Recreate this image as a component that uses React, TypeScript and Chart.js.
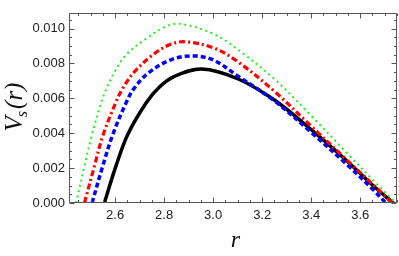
import React, { useEffect, useRef } from "react";
import { Chart, registerables } from "chart.js";

Chart.register(...registerables);

// r values and V_s(r) values for each curve
const blackR = [2.556, 2.604, 2.652, 2.727, 2.781, 2.842, 2.954, 3.1, 3.25, 3.4, 3.55, 3.66, 3.735];
const blackV = [0, 0.00214, 0.00394, 0.00575, 0.00665, 0.00726, 0.00768, 0.00712, 0.0059, 0.0042, 0.00235, 0.0009, 0];

const blueR = [2.506, 2.55, 2.591, 2.645, 2.679, 2.74, 2.835, 2.92, 3.0, 3.1, 3.25, 3.4, 3.55, 3.65, 3.705];
const blueV = [0, 0.00214, 0.00394, 0.00575, 0.0066, 0.0075, 0.00825, 0.00843, 0.0082, 0.00728, 0.00585, 0.00405, 0.00215, 0.0008, 0];

const redR = [2.475, 2.516, 2.552, 2.601, 2.629, 2.679, 2.751, 2.822, 2.886, 3.0, 3.1, 3.25, 3.4, 3.55, 3.66, 3.73];
const redV = [0, 0.00214, 0.00394, 0.0057, 0.00652, 0.00752, 0.00846, 0.00907, 0.00924, 0.0089, 0.0081, 0.0064, 0.0044, 0.0024, 0.00095, 0];

const greenR = [2.441, 2.475, 2.506, 2.543, 2.563, 2.597, 2.645, 2.72, 2.804, 2.865, 3.0, 3.1, 3.25, 3.4, 3.55, 3.66, 3.745];
const greenV = [0, 0.00214, 0.00394, 0.00575, 0.0065, 0.0075, 0.0085, 0.00935, 0.0101, 0.01027, 0.0097, 0.0088, 0.0071, 0.005, 0.0028, 0.0012, 0];

const xTickLabels = ["2.6", "2.8", "3.0", "3.2", "3.4", "3.6"];
const yTickLabels = ["0.000", "0.002", "0.004", "0.006", "0.008", "0.010"];

const X_MIN = 2.416;
const X_MAX = 3.75;
const Y_MIN = 0;
const Y_MAX = 0.0109;

const zip = (xs: number[], ys: number[]) => xs.map((x, i) => ({ x, y: ys[i] }));

const framePlugin = {
  id: "mmaFrame",
  afterDatasetsDraw(chart: any) {
    const { ctx, chartArea, scales } = chart;
    const { left, right, top, bottom } = chartArea;
    const xs = scales.x;
    const ys = scales.y;
    ctx.save();
    ctx.strokeStyle = "#555";
    ctx.lineWidth = 1;
    const L = Math.round(left) - 0.5;
    const R = Math.round(right) - 0.5;
    const T = Math.round(top) + 0.5;
    const B = Math.round(bottom) - 0.5;
    ctx.beginPath();
    ctx.rect(L, T, R - L, B - T);
    ctx.stroke();
    ctx.beginPath();
    const xStep = 0.05;
    for (let k = Math.ceil(X_MIN / xStep - 1e-9); k * xStep <= X_MAX + 1e-9; k++) {
      const v = k * xStep;
      const px = Math.round(xs.getPixelForValue(v)) + 0.5;
      const len = k % 4 === 0 ? 5 : 2.5;
      ctx.moveTo(px, B);
      ctx.lineTo(px, B - len);
      ctx.moveTo(px, T);
      ctx.lineTo(px, T + len);
    }
    const yStep = 0.0005;
    for (let k = 0; k * yStep <= Y_MAX + 1e-12; k++) {
      const v = k * yStep;
      const py = Math.round(ys.getPixelForValue(v)) + 0.5;
      const len = k % 4 === 0 ? 5 : 2.5;
      ctx.moveTo(L, py);
      ctx.lineTo(L + len, py);
      ctx.moveTo(R, py);
      ctx.lineTo(R - len, py);
    }
    ctx.stroke();
    ctx.restore();
  },
  afterDraw(chart: any) {
    const { ctx, chartArea } = chart;
    ctx.save();
    ctx.fillStyle = "#111";
    ctx.textBaseline = "alphabetic";
    ctx.font = "italic 24px 'Liberation Serif'";
    ctx.textAlign = "center";
    const cx = (chartArea.left + chartArea.right) / 2 + 2;
    ctx.fillText("r", cx, 247);
    const big = "italic 25px 'Liberation Serif'";
    const small = "italic 16px 'Liberation Serif'";
    ctx.font = big;
    const wV = ctx.measureText("V").width;
    const wR = ctx.measureText("(r)").width;
    ctx.font = small;
    const wS = ctx.measureText("s").width;
    const total = wV + wS + 1 + wR;
    ctx.translate(22, 107);
    ctx.rotate(-Math.PI / 2);
    ctx.textAlign = "left";
    let x0 = -total / 2;
    ctx.font = big;
    ctx.fillText("V", x0, 0);
    x0 += wV - 1;
    ctx.font = small;
    ctx.fillText("s", x0, 5);
    x0 += wS + 2;
    ctx.font = big;
    ctx.fillText("(r)", x0, 0);
    ctx.restore();
  },
};

export default function App() {
  const canvasRef = useRef<HTMLCanvasElement | null>(null);

  useEffect(() => {
    document.body.style.margin = "0";
    const canvas = canvasRef.current;
    if (!canvas) return;
    const tickFont = { family: "'Liberation Sans', Arial, sans-serif", size: 13 };
    const common = { pointRadius: 0, tension: 0.35, fill: false };
    const chart = new Chart(canvas, {
      type: "line",
      data: {
        datasets: [
          {
            label: "black",
            data: zip(blackR, blackV),
            borderColor: "#000000",
            borderWidth: 3.5,
            order: 4,
            ...common,
          },
          {
            label: "blue",
            data: zip(blueR, blueV),
            borderColor: "#0000ff",
            borderWidth: 3.5,
            borderDash: [5, 3],
            order: 3,
            ...common,
          },
          {
            label: "red",
            data: zip(redR, redV),
            borderColor: "#ff0000",
            borderWidth: 3.2,
            borderDash: [6, 3, 2, 3],
            order: 2,
            ...common,
          },
          {
            label: "green",
            data: zip(greenR, greenV),
            borderColor: "#22f022",
            borderWidth: 2,
            borderDash: [2, 3.5],
            order: 1,
            ...common,
          },
        ],
      },
      options: {
        animation: false,
        responsive: false,
        maintainAspectRatio: false,
        events: [],
        layout: { padding: { top: 1, right: 2, left: 0, bottom: 0 } },
        plugins: {
          legend: { display: false },
          tooltip: { enabled: false },
          title: { display: false },
        },
        scales: {
          x: {
            type: "linear",
            min: X_MIN,
            max: X_MAX,
            grid: { display: false, drawTicks: false },
            border: { display: false },
            ticks: {
              stepSize: 0.2,
              includeBounds: false,
              autoSkip: false,
              maxRotation: 0,
              padding: 5,
              color: "#222",
              font: tickFont,
              callback: (v: any) => {
                const s = Number(v).toFixed(1);
                return xTickLabels.includes(s) ? s : "";
              },
            },
            afterFit: (s: any) => {
              s.height = 53;
            },
          },
          y: {
            type: "linear",
            min: Y_MIN,
            max: Y_MAX,
            grid: { display: false, drawTicks: false },
            border: { display: false },
            ticks: {
              stepSize: 0.002,
              includeBounds: false,
              autoSkip: false,
              padding: 5,
              color: "#222",
              font: tickFont,
              callback: (v: any) => {
                const s = Number(v).toFixed(3);
                return yTickLabels.includes(s) ? s : "";
              },
            },
            afterFit: (s: any) => {
              s.width = 70;
            },
          },
        },
      },
      plugins: [framePlugin],
    } as any);
    return () => chart.destroy();
  }, []);

  return (
    <div style={{ position: "absolute", left: 0, top: 0, width: 399, height: 256 }}>
      <canvas ref={canvasRef} width={399} height={256} style={{ width: 399, height: 256, display: "block" }} />
    </div>
  );
}
